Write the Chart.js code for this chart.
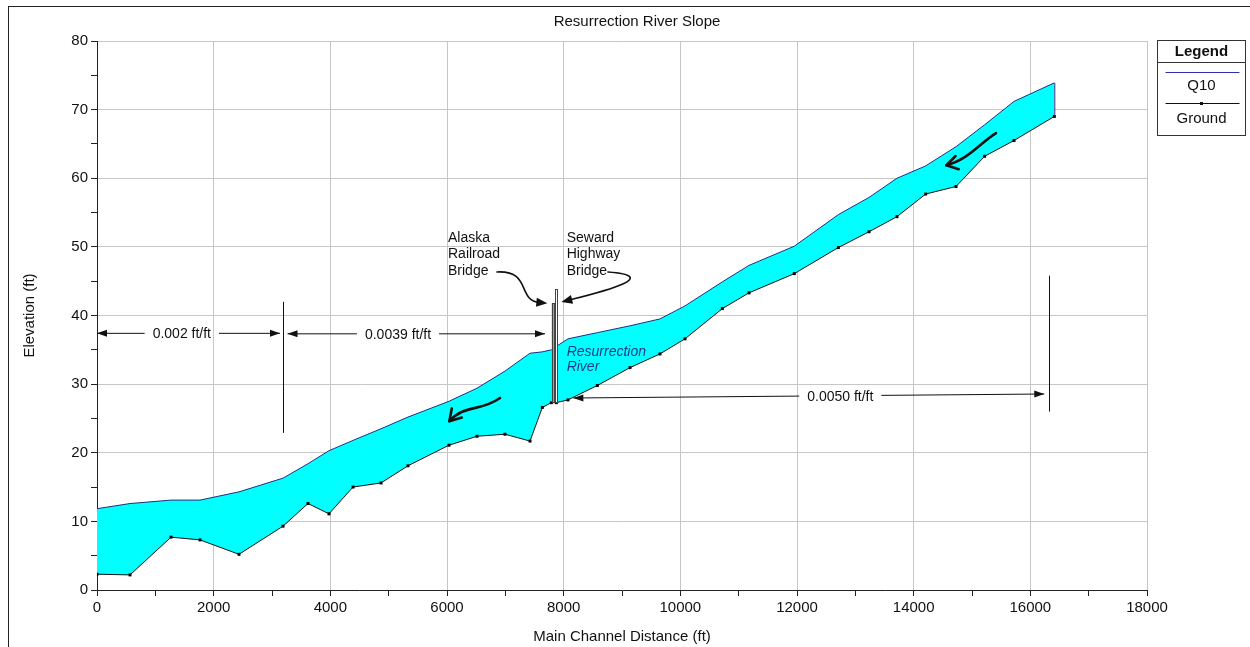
<!DOCTYPE html>
<html><head><meta charset="utf-8">
<script src="https://cdn.jsdelivr.net/npm/chart.js@4.4.0/dist/chart.umd.min.js"></script>
<style>html,body{margin:0;padding:0;background:#fff;overflow:hidden}#wrap{width:1250px;height:647px;position:relative}</style>
</head><body><div id="wrap"><canvas id="c" width="1250" height="647"></canvas></div>
<script>
// ---- data ----
const stations = [0, 566, 1269, 1766, 2434, 3189, 3617, 3977, 4389, 4869, 5331, 6034, 6514, 6994, 7423, 7634, 7789, 7874, 8074, 8577, 9137, 9651, 10080, 10720, 11177, 11954, 12709, 13234, 13714, 14206, 14726, 15217, 15720, 16411];
const q10 = [11.85, 12.6, 13.1, 13.1, 14.3, 16.3, 18.4, 20.3, 21.8, 23.5, 25.2, 27.5, 29.4, 31.9, 34.5, 34.7, 35.0, 35.5, 36.6, 37.5, 38.5, 39.5, 41.4, 44.9, 47.3, 50.1, 54.7, 57.2, 60.0, 61.8, 64.6, 67.8, 71.2, 73.9];
const ground = [2.3, 2.2, 7.7, 7.3, 5.2, 9.3, 12.6, 11.1, 15.0, 15.6, 18.1, 21.1, 22.4, 22.7, 21.7, 26.6, 27.3, 27.3, 27.7, 29.8, 32.4, 34.4, 36.6, 41.0, 43.3, 46.1, 49.9, 52.2, 54.4, 57.7, 58.8, 63.2, 65.5, 69.0];
const xTickLabels = [0, 2000, 4000, 6000, 8000, 10000, 12000, 14000, 16000, 18000];
const yTickLabels = [0, 10, 20, 30, 40, 50, 60, 70, 80];
const seriesNames = ['Q10', 'Ground'];

// annotation content (data coordinates)
const slopeLabels = ['0.002 ft/ft', '0.0039 ft/ft', '0.0050 ft/ft'];
const slopeX1 = [0, 3266, 8166];
const slopeX2 = [3137, 7680, 16239];
const slopeY1 = [37.4, 37.33, 27.98];
const slopeY2 = [37.4, 37.33, 28.56];
const slopeTextX = [1454, 5160, 12742];
const breakX = [3189, 16320];
const breakYLow = [22.9, 26.0];
const breakYHigh = [42.0, 45.8];
const bridgeNames = [['Alaska', 'Railroad', 'Bridge'], ['Seward', 'Highway', 'Bridge']];
const bridgeTextX = [6017, 8051];
const bridgeTextY = [51.2, 48.9, 46.5];
const bridgeBarX1 = [7795, 7851];
const bridgeBarX2 = [7834, 7891];
const bridgeBarTop = [41.8, 43.9];
const bridgeBarBottom = 27.4;
// curved pointer arrows: [start, control1, control2, tip] in data coords
const bridgeArrows = [
  [[6857, 46.34], [7450, 46.6], [7200, 42.2], [7720, 41.8]],
  [[8760, 46.34], [9651, 45.76], [8794, 43.72], [7960, 41.97]]
];
const flowArrows = [
  [[6909, 27.98], [6566, 25.94], [6309, 27.10], [6040, 24.6]],
  [[15411, 66.59], [15137, 65.14], [14931, 62.66], [14560, 61.9]]
];
const riverLabel = ['Resurrection', 'River'];
const riverLabelX = 8051;
const riverLabelY = [34.73, 32.54];

const FONT = '"Liberation Sans", Arial, sans-serif';

function head(ctx, tx, ty, ang, len, hw) {
  ctx.beginPath();
  ctx.moveTo(tx, ty);
  ctx.lineTo(tx - len * Math.cos(ang) + hw * Math.sin(ang), ty - len * Math.sin(ang) - hw * Math.cos(ang));
  ctx.lineTo(tx - len * Math.cos(ang) - hw * Math.sin(ang), ty - len * Math.sin(ang) + hw * Math.cos(ang));
  ctx.closePath();
  ctx.fill();
}

const annot = {
  id: 'annot',
  afterDatasetsDraw(chart) {
    const {ctx, scales: {x, y}} = chart;
    const X = v => x.getPixelForValue(v), Y = v => y.getPixelForValue(v);
    ctx.save();
    // closing edge of the water surface polygon at the upstream end
    const n = stations.length - 1;
    ctx.strokeStyle = '#1f2f7f'; ctx.lineWidth = 1;
    ctx.beginPath(); ctx.moveTo(X(stations[n]) + 0.5, Y(q10[n])); ctx.lineTo(X(stations[n]) + 0.5, Y(ground[n])); ctx.stroke();

    // bridges
    for (let i = 0; i < 2; i++) {
      const x1 = X(bridgeBarX1[i]), x2 = X(bridgeBarX2[i]);
      ctx.fillStyle = i === 0 ? '#a0a0a0' : '#ffffff';
      ctx.strokeStyle = '#444'; ctx.lineWidth = 1;
      ctx.fillRect(x1, Y(bridgeBarTop[i]), x2 - x1, Y(bridgeBarBottom) - Y(bridgeBarTop[i]));
      ctx.strokeRect(Math.round(x1) + 0.5, Math.round(Y(bridgeBarTop[i])) + 0.5, Math.round(x2 - x1), Math.round(Y(bridgeBarBottom) - Y(bridgeBarTop[i])));
    }

    // slope dimension arrows
    ctx.font = '14px ' + FONT;
    ctx.textAlign = 'center'; ctx.textBaseline = 'middle';
    ctx.strokeStyle = '#111'; ctx.fillStyle = '#111'; ctx.lineWidth = 1;
    for (let i = 0; i < slopeLabels.length; i++) {
      const ax = X(slopeX1[i]), ay = Y(slopeY1[i]), bx = X(slopeX2[i]), by = Y(slopeY2[i]);
      const tx = X(slopeTextX[i]);
      const t = (tx - ax) / (bx - ax);
      const ty = ay + (by - ay) * t;
      const w = ctx.measureText(slopeLabels[i]).width / 2 + 8;
      const yAt = px => ay + (by - ay) * (px - ax) / (bx - ax);
      ctx.beginPath();
      ctx.moveTo(ax, ay); ctx.lineTo(tx - w, yAt(tx - w));
      ctx.moveTo(tx + w, yAt(tx + w)); ctx.lineTo(bx, by);
      ctx.stroke();
      const ang = Math.atan2(by - ay, bx - ax);
      head(ctx, bx, by, ang, 10, 3.5);
      head(ctx, ax, ay, ang + Math.PI, 10, 3.5);
      ctx.fillText(slopeLabels[i], tx, ty + 1);
    }
    // reach break lines
    for (let i = 0; i < breakX.length; i++) {
      const px = Math.round(X(breakX[i])) + 0.5;
      ctx.beginPath(); ctx.moveTo(px, Y(breakYHigh[i])); ctx.lineTo(px, Y(breakYLow[i])); ctx.stroke();
    }

    // bridge labels
    ctx.textAlign = 'left';
    ctx.fillStyle = '#111';
    for (let b = 0; b < 2; b++) {
      bridgeNames[b].forEach((s, k) => ctx.fillText(s, X(bridgeTextX[b]), Y(bridgeTextY[k])));
    }
    // curved pointer arrows
    const curve = (pts, lw, filled) => {
      const p = pts.map(q => [X(q[0]), Y(q[1])]);
      ctx.lineWidth = lw; ctx.lineCap = 'round'; ctx.lineJoin = 'round';
      const ang = Math.atan2(p[3][1] - p[2][1], p[3][0] - p[2][0]);
      const back = filled ? 8 : 0;
      const ex = p[3][0] - back * Math.cos(ang), ey = p[3][1] - back * Math.sin(ang);
      ctx.beginPath(); ctx.moveTo(p[0][0], p[0][1]);
      ctx.bezierCurveTo(p[1][0], p[1][1], p[2][0], p[2][1], ex, ey);
      ctx.stroke();
      if (filled) {
        head(ctx, p[3][0], p[3][1], ang, 11, 4.5);
      } else {
        const L = 13;
        ctx.beginPath();
        ctx.moveTo(p[3][0] + L * Math.cos(ang + Math.PI - 0.55), p[3][1] + L * Math.sin(ang + Math.PI - 0.55));
        ctx.lineTo(p[3][0], p[3][1]);
        ctx.lineTo(p[3][0] + L * Math.cos(ang + Math.PI + 0.55), p[3][1] + L * Math.sin(ang + Math.PI + 0.55));
        ctx.stroke();
      }
    };
    ctx.strokeStyle = '#111'; ctx.fillStyle = '#111';
    bridgeArrows.forEach(a => curve(a, 1.6, true));
    flowArrows.forEach(a => curve(a, 2.6, false));

    // river label
    ctx.font = 'italic 14px ' + FONT;
    ctx.fillStyle = '#1f3a8a';
    riverLabel.forEach((s, k) => ctx.fillText(s, X(riverLabelX), Y(riverLabelY[k])));
    ctx.restore();
  },
  afterDraw(chart) {
    const {ctx} = chart;
    ctx.save();
    // outer frame
    ctx.strokeStyle = '#222'; ctx.lineWidth = 1;
    ctx.strokeRect(8.5, 6.5, 2000, 2000);
    // title
    ctx.fillStyle = '#111'; ctx.font = '15px ' + FONT;
    ctx.textAlign = 'center'; ctx.textBaseline = 'middle';
    ctx.fillText('Resurrection River Slope', 637, 22);
    // legend box
    const L = 1157.5, T = 40.5, W = 88, H = 95;
    ctx.fillStyle = '#fff'; ctx.fillRect(L, T, W, H);
    ctx.strokeStyle = '#333'; ctx.strokeRect(L, T, W, H);
    ctx.beginPath(); ctx.moveTo(L, 62.5); ctx.lineTo(L + W, 62.5); ctx.stroke();
    ctx.fillStyle = '#111';
    ctx.font = 'bold 15px ' + FONT; ctx.fillText('Legend', L + W / 2, 51.5);
    ctx.font = '15px ' + FONT;
    ctx.strokeStyle = '#3030b0'; ctx.beginPath(); ctx.moveTo(L + 8, 72.5); ctx.lineTo(L + W - 6, 72.5); ctx.stroke();
    ctx.fillText(seriesNames[0], L + W / 2, 86);
    ctx.strokeStyle = '#111'; ctx.beginPath(); ctx.moveTo(L + 8, 103.5); ctx.lineTo(L + W - 6, 103.5); ctx.stroke();
    ctx.fillRect(L + W / 2 - 1.5, 102, 3, 3);
    ctx.fillText(seriesNames[1], L + W / 2, 119);
    ctx.restore();
  }
};

const gridCol = '#c6c6c6';
new Chart(document.getElementById('c'), {
  type: 'line',
  data: {
    datasets: [
      {
        label: seriesNames[0],
        data: stations.map((s, i) => ({x: s, y: q10[i]})),
        borderColor: '#1f2f7f', borderWidth: 1,
        backgroundColor: '#00ffff',
        fill: '+1', pointRadius: 0, tension: 0, order: 1
      },
      {
        label: seriesNames[1],
        data: stations.map((s, i) => ({x: s, y: ground[i]})),
        borderColor: '#111', borderWidth: 1,
        backgroundColor: '#111',
        pointStyle: 'rect', pointRadius: 2.1, pointBorderWidth: 0, pointBackgroundColor: '#000',
        fill: false, tension: 0, order: 0
      }
    ]
  },
  options: {
    responsive: false, animation: false, devicePixelRatio: 1,
    layout: {padding: {left: 0, top: 41, right: 103, bottom: 0}},
    plugins: {legend: {display: false}, tooltip: {enabled: false}, title: {display: false}},
    scales: {
      x: {
        type: 'linear', min: 0, max: 18000,
        afterFit: s => { s.height = 57; },
        ticks: {stepSize: 1000, autoSkip: false, maxRotation: 0, padding: 3, color: '#111',
          font: {family: FONT, size: 15},
          callback: v => xTickLabels.includes(v) ? String(v) : ''},
        grid: {color: c => (c.tick && xTickLabels.includes(c.tick.value)) ? gridCol : 'rgba(0,0,0,0)',
          tickColor: '#222', tickLength: 6, lineWidth: 1},
        border: {color: '#222', width: 1},
        title: {display: true, text: 'Main Channel Distance (ft)', color: '#111',
          font: {family: FONT, size: 15}, padding: {top: 0, bottom: 1}}
      },
      y: {
        min: 0, max: 80,
        afterFit: s => { s.width = 97; },
        ticks: {stepSize: 5, autoSkip: false, padding: 3, color: '#111',
          font: {family: FONT, size: 15},
          callback: v => yTickLabels.includes(v) ? String(v) : ''},
        grid: {color: c => (c.tick && yTickLabels.includes(c.tick.value)) ? gridCol : 'rgba(0,0,0,0)',
          tickColor: '#222', tickLength: 6, lineWidth: 1},
        border: {color: '#222', width: 1},
        title: {display: true, text: 'Elevation (ft)', color: '#111',
          font: {family: FONT, size: 15}, padding: {top: 21, bottom: 0}}
      }
    }
  },
  plugins: [annot]
});
</script></body></html>
